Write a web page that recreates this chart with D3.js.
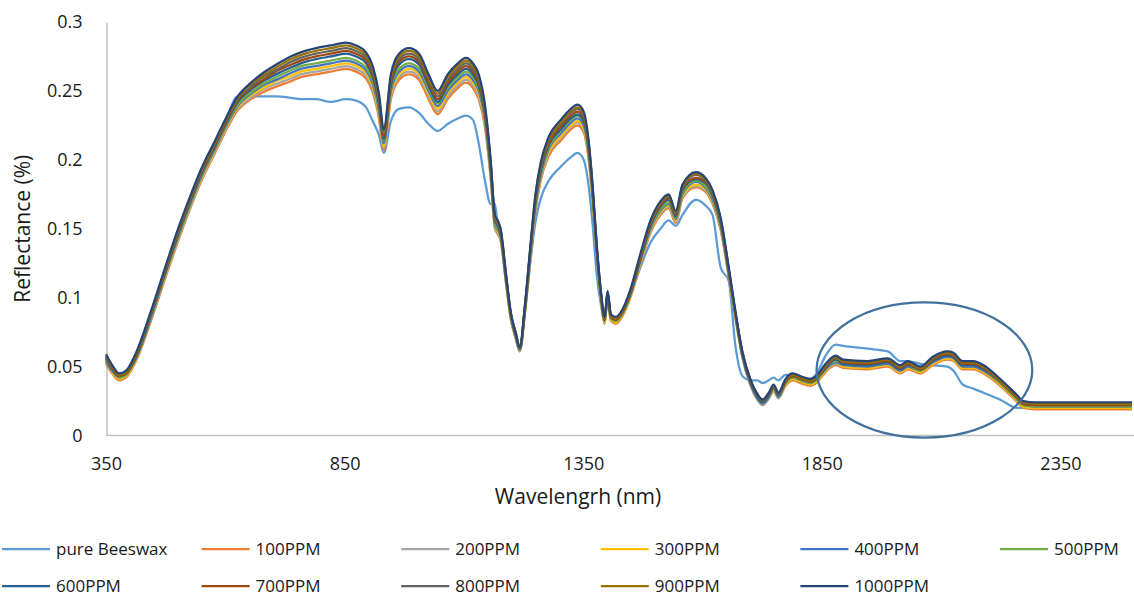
<!DOCTYPE html>
<html>
<head>
<meta charset="utf-8">
<script src="https://cdn.jsdelivr.net/npm/d3@7"></script>
<style>
  body { margin: 0; background: #fff; }
  text { font-family: "Open Sans", sans-serif; fill: #1a1a1a; }
</style>
</head>
<body>
<div id="chart"></div>
<script>
// wavelength grid (nm)
const wavelengths = [350,365,377,392,413,444,476,497,528,549,580,601,626,654,679,706,737,758,790,821,
  853,874,895,909,922,932,947,964,985,1006,1026,1045,1066,1087,1104,1119,1131,1144,1156,1165,
  1171,1177,1188,1198,1209,1217,1228,1240,1250,1261,1278,1303,1324,1338,1351,1361,1370,1378,1387,1395,
  1401,1408,1418,1433,1449,1470,1491,1512,1529,1544,1558,1586,1606,1621,1638,1655,1669,1684,1701,1715,
  1726,1739,1749,1759,1774,1789,1806,1826,1841,1858,1879,1895,1946,1988,2015,2030,2057,2082,2113,2126,
  2145,2168,2189,2224,2260,2272,2298,2500];

// reflectance values, in thousandths
const pureBeeswax = [56,48,43,45,57,88,122,144,173,191, 213,229,246,246,246,246,245,244,244,242,
  244,243,238,228,218,205,228,237,238,234, 226,221,226,230,232,229,212,185,168,168,
  152,145,112,85,71,63,90,128,155,172, 185,195,202,205,200,182,152,118,95,83,
  101,85,83,90,102,122,140,150,156,152, 160,171,167,160,122,112,65,43,40,40,
  38,40,42,40,44,44,42,41,46,58, 66,65,63,61,54,54,52,51,50,47, 37,34,31,26,20,20,20,20];
const ppm100 = [52,44,40,42,54,83,116,137,166,184, 206,221,236,244,249,253,257,260,262,264,
  266,264,259,249,230,207,244,258,262,258, 244,233,244,252,256,252,244,224,187,150,
  146,141,111,85,70,61,89,131,163,185, 203,214,222,225,220,201,169,132,99,81,
  99,83,81,87,100,124,147,160,165,154, 172,180,177,168,149,115,85,56,36,26,
  22,27,32,27,36,40,38,36,39,46, 51,49,48,50,45,48,45,51,55,54, 48,48,45,36,24,20,19,19];
const ppm200 = [53,45,41,43,55,84,117,138,167,185, 207,222,237,245,251,255,259,262,264,266,
  268,266,261,251,232,209,246,260,264,260, 246,235,246,254,258,254,246,226,188,151,
  147,142,112,86,70,61,90,132,164,186, 205,216,224,227,222,203,170,133,100,82,
  100,84,82,88,101,125,148,161,166,155, 173,181,178,169,150,116,86,56,36,26,
  22,27,33,27,37,41,39,37,40,47, 52,50,49,51,46,49,46,52,56,55, 49,49,46,37,25,21,20,20];
const ppm300 = [54,45,41,43,55,85,118,139,168,186, 208,223,238,247,252,257,261,264,266,268,
  270,268,263,253,234,210,248,262,266,262, 248,237,248,256,260,256,248,228,190,152,
  148,143,113,86,71,62,90,133,166,188, 206,217,225,228,223,204,171,134,100,82,
  100,84,82,88,101,126,149,162,167,156, 174,182,179,170,151,117,86,57,37,27,
  23,28,33,28,37,41,39,37,40,47, 53,50,49,51,46,49,46,52,56,55, 49,49,46,37,25,21,20,20];
const ppm400 = [54,46,42,44,56,85,119,140,169,187, 209,224,239,248,254,258,263,266,268,270,
  272,270,265,255,236,212,250,264,268,264, 250,239,250,258,262,258,250,229,191,153,
  149,144,113,87,71,62,91,134,167,189, 208,219,227,230,225,206,173,135,101,83,
  101,85,83,89,102,127,150,163,168,157, 175,184,180,171,152,117,87,57,37,27,
  23,28,34,28,38,42,40,38,41,48, 53,51,50,52,47,50,47,53,57,56, 50,50,47,38,26,22,21,21];
const ppm500 = [55,47,42,44,57,86,120,141,170,188, 210,225,240,249,255,260,265,268,270,272,
  274,272,267,257,238,214,252,266,270,266, 252,241,252,260,264,260,252,231,193,154,
  150,145,114,87,72,62,92,135,168,191, 209,221,229,232,227,207,174,136,102,83,
  102,85,83,89,103,128,151,164,169,158, 176,185,181,172,153,118,87,58,38,28,
  24,29,34,29,38,42,40,38,41,49, 54,52,51,53,48,51,47,54,58,57, 51,51,48,38,26,22,21,21];
const ppm600 = [56,47,43,45,57,87,120,142,171,189, 211,226,242,251,257,262,267,270,273,275,
  277,275,270,260,240,215,254,269,273,269, 254,242,254,262,266,262,254,233,194,156,
  152,146,115,88,72,63,92,136,170,192, 211,222,230,233,228,209,175,136,102,84,
  102,86,84,90,103,128,152,166,171,159, 178,186,183,174,154,119,88,58,38,28,
  24,29,35,29,39,43,41,39,42,49, 55,52,51,53,48,51,48,54,58,57, 51,51,48,39,27,23,22,22];
const ppm700 = [57,48,43,45,58,88,121,143,172,190, 212,227,243,252,258,264,269,272,275,277,
  279,277,272,262,242,217,256,271,275,271, 256,244,256,264,268,264,256,235,196,157,
  153,147,116,88,73,63,93,137,171,194, 212,224,232,235,230,210,176,137,103,84,
  103,86,84,90,104,129,153,167,172,160, 179,187,184,175,155,120,88,59,39,29,
  25,30,35,30,39,43,41,39,42,50, 56,53,52,54,49,52,48,55,59,58, 52,52,49,39,27,23,22,22];
const ppm800 = [57,49,44,46,59,88,122,144,173,191, 213,228,244,253,260,265,271,274,277,279,
  281,279,274,264,244,219,258,273,277,273, 258,246,258,266,270,266,258,236,197,158,
  154,148,116,89,73,63,94,138,172,195, 214,226,234,237,232,212,178,138,104,85,
  104,87,85,91,105,130,154,168,173,161, 180,189,185,176,156,120,89,59,39,29,
  25,30,36,30,40,44,42,40,43,51, 56,54,53,55,50,53,49,56,60,59, 53,53,50,40,28,24,23,23];
const ppm900 = [58,49,44,46,59,89,123,145,174,192, 214,229,245,255,261,267,273,276,279,281,
  283,281,276,266,246,220,260,275,279,275, 260,248,260,268,272,268,260,238,199,159,
  155,149,117,89,74,64,94,139,174,197, 215,227,235,238,233,213,179,139,104,85,
  104,87,85,91,105,131,155,169,174,162, 181,190,186,177,157,121,89,60,40,30,
  26,31,36,31,40,44,42,40,43,51, 57,54,53,55,50,53,49,56,60,59, 53,53,50,40,28,24,23,23];
const ppm1000 = [59,50,45,47,60,90,124,146,175,193, 215,230,246,256,263,269,275,278,281,283,
  285,283,278,268,248,222,262,277,281,277, 262,250,262,270,274,270,262,240,200,160,
  156,150,118,90,74,64,95,140,175,198, 217,229,237,240,235,215,180,140,105,86,
  105,88,86,92,106,132,156,170,175,163, 182,191,187,178,158,122,90,60,40,30,
  26,31,37,31,41,45,43,41,44,52, 58,55,54,56,51,54,50,57,61,60, 54,54,51,41,29,25,24,24];

const seriesNames = ["pure Beeswax","100PPM","200PPM","300PPM","400PPM","500PPM",
  "600PPM","700PPM","800PPM","900PPM","1000PPM"];
const seriesValues = [pureBeeswax, ppm100, ppm200, ppm300, ppm400, ppm500,
  ppm600, ppm700, ppm800, ppm900, ppm1000];
const seriesColors = ["#5b9bd5","#ed7d31","#a5a5a5","#ffc000","#4472c4","#70ad47",
  "#255e91","#9e480e","#636363","#997300","#264478"];

const xTicks = [350, 850, 1350, 1850, 2350];
const yTicks = [0, 0.05, 0.1, 0.15, 0.2, 0.25, 0.3];

const width = 1134, height = 598;

const svg = d3.select('#chart')
  .append('svg')
  .attr('width', width)
  .attr('height', height);

const x = d3.scaleLinear().domain([350, 2500]).range([106, 1132]);
const y = d3.scaleLinear().domain([0, 0.3]).range([435.5, 22]);

// axes (Excel style: no tick marks, light grey axis lines)
const xAxis = svg.append('g')
  .attr('transform', 'translate(0,' + y(0) + ')')
  .call(d3.axisBottom(x).tickValues(xTicks).tickSize(0).tickPadding(22).tickFormat(d3.format('d')));
xAxis.select('.domain').attr('d', 'M106.5,0H1134').attr('stroke', '#bfbfbf').attr('stroke-width', 1.5);
xAxis.selectAll('text').style('font-size', '18px');

const yAxis = svg.append('g')
  .attr('transform', 'translate(106.5,0)')
  .call(d3.axisLeft(y).tickValues(yTicks).tickSize(0).tickPadding(24).tickFormat(d3.format('~g')));
yAxis.select('.domain').attr('stroke', '#bfbfbf').attr('stroke-width', 1.5);
yAxis.selectAll('text').style('font-size', '18px');

// axis titles
svg.append('text')
  .attr('x', 578)
  .attr('y', 504)
  .attr('text-anchor', 'middle')
  .style('font-size', '21px')
  .text('Wavelengrh (nm)');

svg.append('text')
  .attr('transform', 'translate(30,' + (y(0.15)) + ') rotate(-90)')
  .attr('text-anchor', 'middle')
  .style('font-size', '21px')
  .text('Reflectance (%)');

// lines
const line = d3.line()
  .x((d, i) => x(wavelengths[i]))
  .y(d => y(d / 1000))
  .curve(d3.curveMonotoneX);

svg.append('g')
  .selectAll('path')
  .data(seriesValues)
  .enter()
  .append('path')
  .attr('d', line)
  .attr('fill', 'none')
  .attr('stroke', (d, i) => seriesColors[i])
  .attr('stroke-width', 2.25)
  .attr('stroke-linejoin', 'round');

// highlight ellipse drawn over the 1850-2300 nm region
const ecx = 2065, ecy = 0.0475;
svg.append('ellipse')
  .attr('cx', x(ecx))
  .attr('cy', y(ecy))
  .attr('rx', x(ecx + 226) - x(ecx))
  .attr('ry', y(0) - y(0.049))
  .attr('fill', 'none')
  .attr('stroke', '#41719c')
  .attr('stroke-width', 2.25);

// legend: 6 columns, 2 rows
const legend = svg.append('g')
  .selectAll('.legend')
  .data(seriesNames)
  .enter()
  .append('g')
  .attr('class', 'legend')
  .attr('transform', (d, i) => {
    const col = i % 6, row = Math.floor(i / 6);
    return 'translate(' + (col * 199.6) + ',' + (549 + row * 37) + ')';
  });

legend.append('line')
  .attr('x1', 2).attr('x2', 50)
  .attr('y1', 0).attr('y2', 0)
  .attr('stroke', (d, i) => seriesColors[i])
  .attr('stroke-width', 2.25);

legend.append('text')
  .attr('x', 56)
  .attr('y', 0)
  .attr('dy', '0.35em')
  .style('font-size', '17px')
  .text(d => d);
</script>
</body>
</html>
